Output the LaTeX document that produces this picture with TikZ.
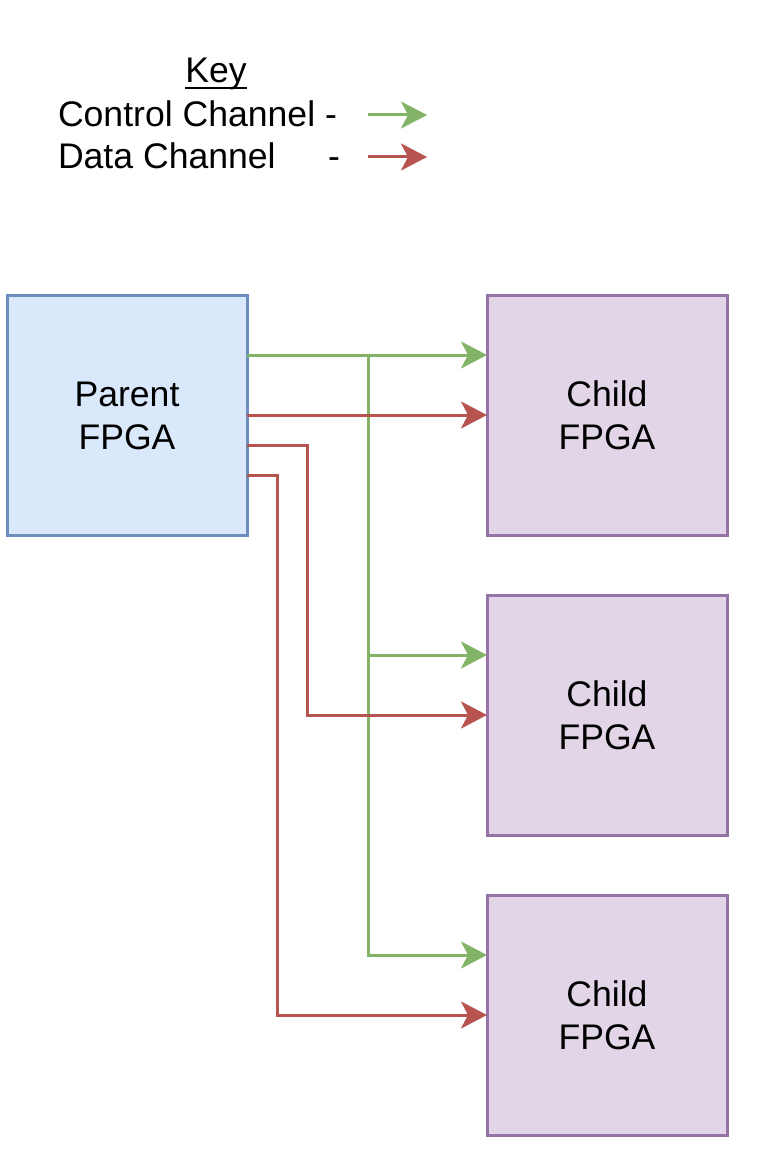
\documentclass[tikz,border=0pt]{standalone}
\usepackage{fontspec}
\setmainfont{Liberation Sans}
\usetikzlibrary{arrows.meta}
\definecolor{pfill}{HTML}{DAE8FC}
\definecolor{pstroke}{HTML}{6C8EBF}
\definecolor{cfill}{HTML}{E1D5E7}
\definecolor{cstroke}{HTML}{9673A6}
\definecolor{gline}{HTML}{82B366}
\definecolor{rline}{HTML}{B85450}
\begin{document}
\begin{tikzpicture}[x=1pt,y=-1pt,
  fpga/.style={minimum width=240pt,minimum height=240pt,inner sep=0pt,outer sep=0pt,line width=3pt,align=center,font=\fontsize{35.6}{43}\selectfont},
  parentbox/.style={fpga,draw=pstroke,fill=pfill},
  childbox/.style={fpga,draw=cstroke,fill=cfill},
  lbl/.style={inner sep=0pt,outer sep=0pt,font=\fontsize{35.6}{43}\selectfont},
  ctrl/.style={draw=gline,line width=3pt,-{Stealth[length=26pt,width=27pt,inset=7pt]}},
  dat/.style={draw=rline,line width=3pt,-{Stealth[length=26pt,width=27pt,inset=7pt]}}
]
\useasboundingbox (0,0) rectangle (756,1161);

% legend
\node[lbl,anchor=base] (key) at (216,83) {Key};
\draw[line width=2.5pt] ([yshift=-5pt]key.base west) -- ([yshift=-5pt]key.base east);
\node[lbl,anchor=base west] (ctltxt) at (58,127) {Control Channel -};
\node[lbl,anchor=base west] (dattxt) at (58,168) {Data Channel};
\node[lbl,anchor=base east] (datdash) at (340,168) {-};
\coordinate (kg1) at (368,115);
\coordinate (kg2) at (427,115);
\coordinate (kr1) at (368,157);
\coordinate (kr2) at (427,157);
\draw[ctrl] (kg1) -- (kg2);
\draw[dat] (kr1) -- (kr2);

% boxes
\node[parentbox] (parent) at (127,415.5) {\raisebox{-3pt}{\parbox{200pt}{\centering Parent\\FPGA}}};
\node[childbox] (c1) at (607,415.5) {\raisebox{-3pt}{\parbox{200pt}{\centering Child\\FPGA}}};
\node[childbox] (c2) at (607,715.5) {\raisebox{-3pt}{\parbox{200pt}{\centering Child\\FPGA}}};
\node[childbox] (c3) at (607,1015.5) {\raisebox{-3pt}{\parbox{200pt}{\centering Child\\FPGA}}};

% control channel
\coordinate (g1) at (368,355);
\coordinate (g2) at (368,655);
\coordinate (g3) at (368,955);
\draw[ctrl] (parent.east |- g1) -- (c1.west |- g1);
\draw[ctrl] (g1) -- (g3) -- (c3.west |- g3);
\draw[ctrl] (g2) -- (c2.west |- g2);

% data channel
\coordinate (r1) at (247,415);
\coordinate (r2a) at (307,445);
\coordinate (r2b) at (307,715);
\coordinate (r3a) at (277,475);
\coordinate (r3b) at (277,1015);
\draw[dat] (parent.east |- r1) -- (c1.west |- r1);
\draw[dat] (parent.east |- r2a) -- (r2a) -- (r2b) -- (c2.west |- r2b);
\draw[dat] (parent.east |- r3a) -- (r3a) -- (r3b) -- (c3.west |- r3b);
\end{tikzpicture}
\end{document}
